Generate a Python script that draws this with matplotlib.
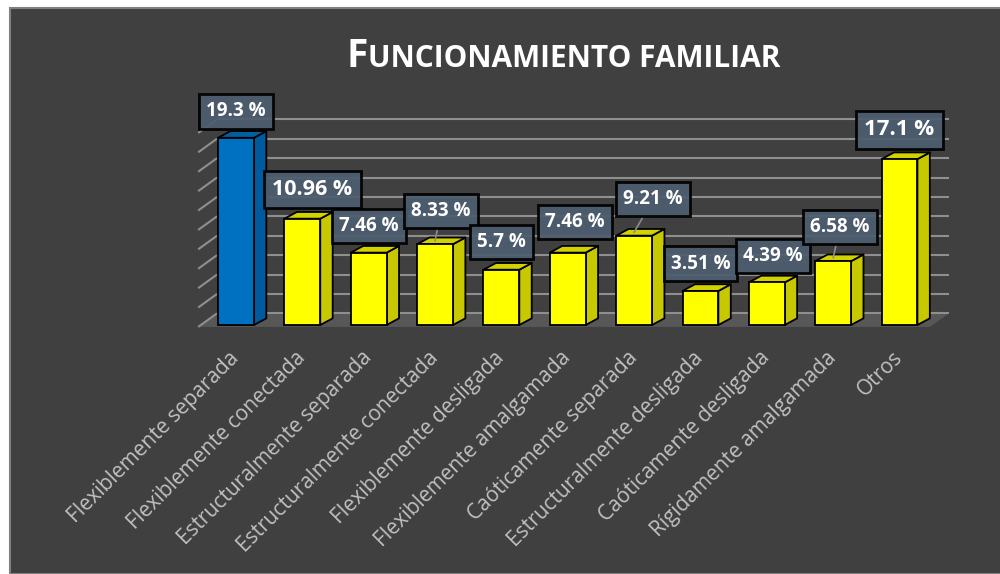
import matplotlib
matplotlib.use("Agg")
import matplotlib.pyplot as plt
from matplotlib.patches import Polygon, Rectangle
import numpy as np

# ---------------- data ----------------
categories = [
    "Flexiblemente separada",
    "Flexiblemente conectada",
    "Estructuralmente separada",
    "Estructuralmente conectada",
    "Flexiblemente desligada",
    "Flexiblemente amalgamada",
    "Caóticamente separada",
    "Estructuralmente desligada",
    "Caóticamente desligada",
    "Rígidamente amalgamada",
    "Otros",
]
values = [19.3, 10.96, 7.46, 8.33, 5.7, 7.46, 9.21, 3.51, 4.39, 6.58, 17.1]
value_labels = ["19.3 %", "10.96 %", "7.46 %", "8.33 %", "5.7 %", "7.46 %",
                "9.21 %", "3.51 %", "4.39 %", "6.58 %", "17.1 %"]
title_first = "F"
title_rest = "UNCIONAMIENTO FAMILIAR"
grid_values = np.arange(0, 21, 2)

# ---------------- style ----------------
BG = "#404040"
GRID = "#8f8f8f"
FLOOR = "#575757"
FONT = "Open Sans"
bar_colors = ["#0070C0"] + ["#FFFF00"] * 10
side_colors = ["#005A9E"] + ["#C8C800"] * 10
top_colors = ["#00609f"] + ["#D2D200"] * 10
label_offsets = [(0, 23), (10, 26), (0, 23), (6, 30), (0, 24), (7, 27),
                 (19, 33), (0, 24), (6, 23), (7, 31), (0, 26)]
label_sizes = [13.5, 15.5, 13.5, 13.5, 13.5, 13.5, 13.5, 13.5, 13.5, 13.5, 16]
leaders = [False, False, False, True, False, False, True, False, False, True, False]

BW = 0.27      # half bar width (category units)
DX, DY = 0.187, 0.69   # bar depth
WX, WY = 0.283, 1.4    # floor / wall depth
X_LEFT, X_RIGHT = -0.57, 10.46
Y_FRONT = -0.2

fig = plt.figure(figsize=(10, 5.74), dpi=100)
fig.patch.set_facecolor("white")
fig.patches.append(Rectangle((10 / 1000, 0), 1.0, 566 / 574,
                             transform=fig.transFigure, facecolor=BG,
                             edgecolor="#808080", lw=1.5, zorder=-10))

ax = fig.add_axes([0.19, 0.4303, 0.77, 0.4042])
ax.set_xlim(-0.6933, 10.9118)
ax.set_ylim(-0.206, 23.71)
ax.set_facecolor("none")
for s in ax.spines.values():
    s.set_visible(False)

# floor
ax.add_patch(Polygon([(X_LEFT, Y_FRONT), (X_RIGHT, Y_FRONT),
                      (X_RIGHT + WX, Y_FRONT + WY), (X_LEFT + WX, Y_FRONT + WY)],
                     closed=True, facecolor=FLOOR, edgecolor="none",
                     clip_on=False, zorder=1))
# gridlines: back wall + left wall
for g in grid_values:
    yb = g + Y_FRONT + WY
    ax.plot([X_LEFT + WX, X_RIGHT + WX], [yb, yb], color=GRID, lw=1.5,
            clip_on=False, zorder=2, solid_capstyle="butt")
    ax.plot([X_LEFT, X_LEFT + WX], [g + Y_FRONT, yb], color=GRID, lw=1.5,
            clip_on=False, zorder=2, solid_capstyle="butt")

# bars
x = np.arange(len(values))
for i, v in zip(x, values):
    side = Polygon([(i + BW, 0), (i + BW + DX, DY), (i + BW + DX, v + DY), (i + BW, v)],
                   closed=True, facecolor=side_colors[i], edgecolor="black",
                   lw=1.3, zorder=3, joinstyle="round")
    top = Polygon([(i - BW, v), (i + BW, v), (i + BW + DX, v + DY), (i - BW + DX, v + DY)],
                  closed=True, facecolor=top_colors[i], edgecolor="black",
                  lw=1.3, zorder=3, joinstyle="round")
    ax.add_patch(side)
    ax.add_patch(top)
ax.bar(x, values, width=2 * BW, color=bar_colors, edgecolor="black",
       linewidth=1.3, zorder=4)

# value labels
for i, v in zip(x, values):
    arrow = dict(arrowstyle="-", color="#8c8c8c", lw=1.2,
                 shrinkA=0, shrinkB=0) if leaders[i] else None
    ax.annotate(value_labels[i], xy=(i, v + DY / 2), xytext=label_offsets[i],
                textcoords="offset pixels", ha="center", va="center",
                color="white", fontsize=label_sizes[i], fontweight="bold",
                family=FONT, zorder=6, arrowprops=arrow,
                bbox=dict(boxstyle="square,pad=0.38", facecolor="#4d5e6f",
                          edgecolor="black", lw=2, alpha=0.93))

# category labels
ax.set_xticks(x)
ax.set_xticklabels(categories, rotation=45, ha="right", va="center",
                   rotation_mode="anchor", color="#c0c0c0", fontsize=15,
                   family=FONT)
ax.tick_params(axis="x", length=0, pad=20)
ax.set_yticks([])

# title in small caps
renderer = fig.canvas.get_renderer()
ty = 1 - 67 / 574
t1 = fig.text(0, ty, title_first, fontsize=28, fontweight="bold",
              family=FONT, color="white", va="baseline", ha="left")
t2 = fig.text(0, ty, title_rest, fontsize=21.5, fontweight="bold",
              family=FONT, color="white", va="baseline", ha="left")
w1 = t1.get_window_extent(renderer).width
w2 = t2.get_window_extent(renderer).width
total = w1 + w2
x0 = 563 - total / 2
t1.set_x(x0 / 1000)
t2.set_x((x0 + w1 + 1) / 1000)

fig.savefig("out.png", dpi=100, facecolor="white")
